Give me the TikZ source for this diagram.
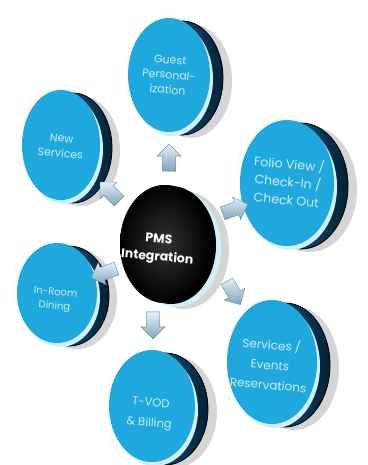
\documentclass[tikz,border=0pt]{standalone}
\usepackage{fontspec}
\setmainfont{Poppins}
\usetikzlibrary{shapes.arrows}

\definecolor{facecyan}{RGB}{30,168,222}
\definecolor{rimblue}{RGB}{12,110,170}
\definecolor{arrowblue}{RGB}{160,205,236}
\definecolor{textpale}{RGB}{210,236,250}

\tikzset{
	discshadow/.style={fill=black!30,opacity=0.55},
	discrim/.style={left color=rimblue,right color=rimblue!30!black,draw=black,line width=0.8pt},
	discglint/.style={fill=white!80!facecyan},
	discface/.style={fill=facecyan},
	disctext/.style={text=textpale,align=center,rotate=-5,font=\fontsize{11}{15}\selectfont},
	blockarrow/.style={single arrow,minimum height=27pt,minimum width=24pt,single arrow head extend=4pt,inner sep=5pt,
		top color=white!70!arrowblue,bottom color=arrowblue!80!black,draw=arrowblue!60!black,line width=0.3pt}
}

\begin{document}
\begin{tikzpicture}[x=1pt,y=-1pt]
	
	\useasboundingbox (0,0) rectangle (367,465);
	
	% Guest Personalization
	\fill [discshadow] (191,81) ellipse [x radius=41pt,y radius=57pt];
	\fill [discrim] (182,78) ellipse [x radius=41pt,y radius=57pt];
	\fill [discglint] (172,79) ellipse [x radius=41pt,y radius=57pt];
	\fill [discface] (169,75) ellipse [x radius=41pt,y radius=57pt];
	\node [disctext] (guest) at (169,75) {Guest\\Personal-\\ization};
	
	% New Services
	\fill [discshadow] (81,151) ellipse [x radius=39pt,y radius=55pt];
	\fill [discrim] (73,148) ellipse [x radius=39pt,y radius=55pt];
	\fill [discglint] (64,149) ellipse [x radius=39pt,y radius=55pt];
	\fill [discface] (61,145) ellipse [x radius=39pt,y radius=55pt];
	\node [disctext] (newserv) at (61,146) {New\\Services};
	
	% Folio View
	\fill [discshadow] (310,189) ellipse [x radius=47pt,y radius=63pt];
	\fill [discrim] (301,186) ellipse [x radius=47pt,y radius=63pt];
	\fill [discglint] (290,187) ellipse [x radius=47pt,y radius=63pt];
	\fill [discface] (287,183) ellipse [x radius=47pt,y radius=63pt];
	\node [disctext,font=\fontsize{12.5}{18}\selectfont] (folio) at (288,181) {Folio View /\\Check-In /\\Check Out};
	
	% PMS Integration
	\fill [discshadow] (184,250) ellipse [x radius=45pt,y radius=59pt];
	\fill [discglint] (176,248) ellipse [x radius=45pt,y radius=59pt];
	\fill [fill=black] (171,245) ellipse [x radius=45pt,y radius=59pt];
	\fill [inner color=black!80,outer color=black] (165,244) ellipse [x radius=45pt,y radius=59pt];
	\node [text=white,align=center,rotate=-5,font=\bfseries\fontsize{12.5}{18}\selectfont] (pms) at (158,249) {PMS\\Integration};
	
	% In-Room Dining
	\fill [discshadow] (77,299) ellipse [x radius=40pt,y radius=50pt];
	\fill [discrim] (69,296) ellipse [x radius=40pt,y radius=50pt];
	\fill [discglint] (60,297) ellipse [x radius=40pt,y radius=50pt];
	\fill [discface] (57,293) ellipse [x radius=40pt,y radius=50pt];
	\node [disctext,font=\fontsize{10}{14}\selectfont] (dining) at (55,300) {In-Room\\Dining};
	
	% Services / Events
	\fill [discshadow] (294,368) ellipse [x radius=45pt,y radius=62pt];
	\fill [discrim] (285,365) ellipse [x radius=45pt,y radius=62pt];
	\fill [discglint] (275,366) ellipse [x radius=45pt,y radius=62pt];
	\fill [discface] (272,362) ellipse [x radius=45pt,y radius=62pt];
	\node [disctext,font=\fontsize{12}{20}\selectfont] (events) at (270,364) {Services /\\Events\\Reservations};
	
	% T-VOD
	\fill [discshadow] (174,412) ellipse [x radius=43pt,y radius=56pt];
	\fill [discrim] (165,409) ellipse [x radius=43pt,y radius=56pt];
	\fill [discglint] (155,410) ellipse [x radius=43pt,y radius=56pt];
	\fill [discface] (152,406) ellipse [x radius=43pt,y radius=56pt];
	\node [disctext,font=\fontsize{11.5}{20}\selectfont] (tvod) at (150,414) {T-VOD\\\& Billing};
	
	% arrows
	\node [blockarrow,rotate=90] (upguest) at (169,161) {};
	\node [blockarrow,rotate=20] (tofolio) at (232,210) {};
	\node [blockarrow,rotate=-60] (toevents) at (232,290) {};
	\node [blockarrow,rotate=-90] (totvod) at (153,322) {};
	\node [blockarrow,rotate=200] (todining) at (107,272) {};
	\node [blockarrow,rotate=135] (tonew) at (112,194) {};
	
\end{tikzpicture}
\end{document}
